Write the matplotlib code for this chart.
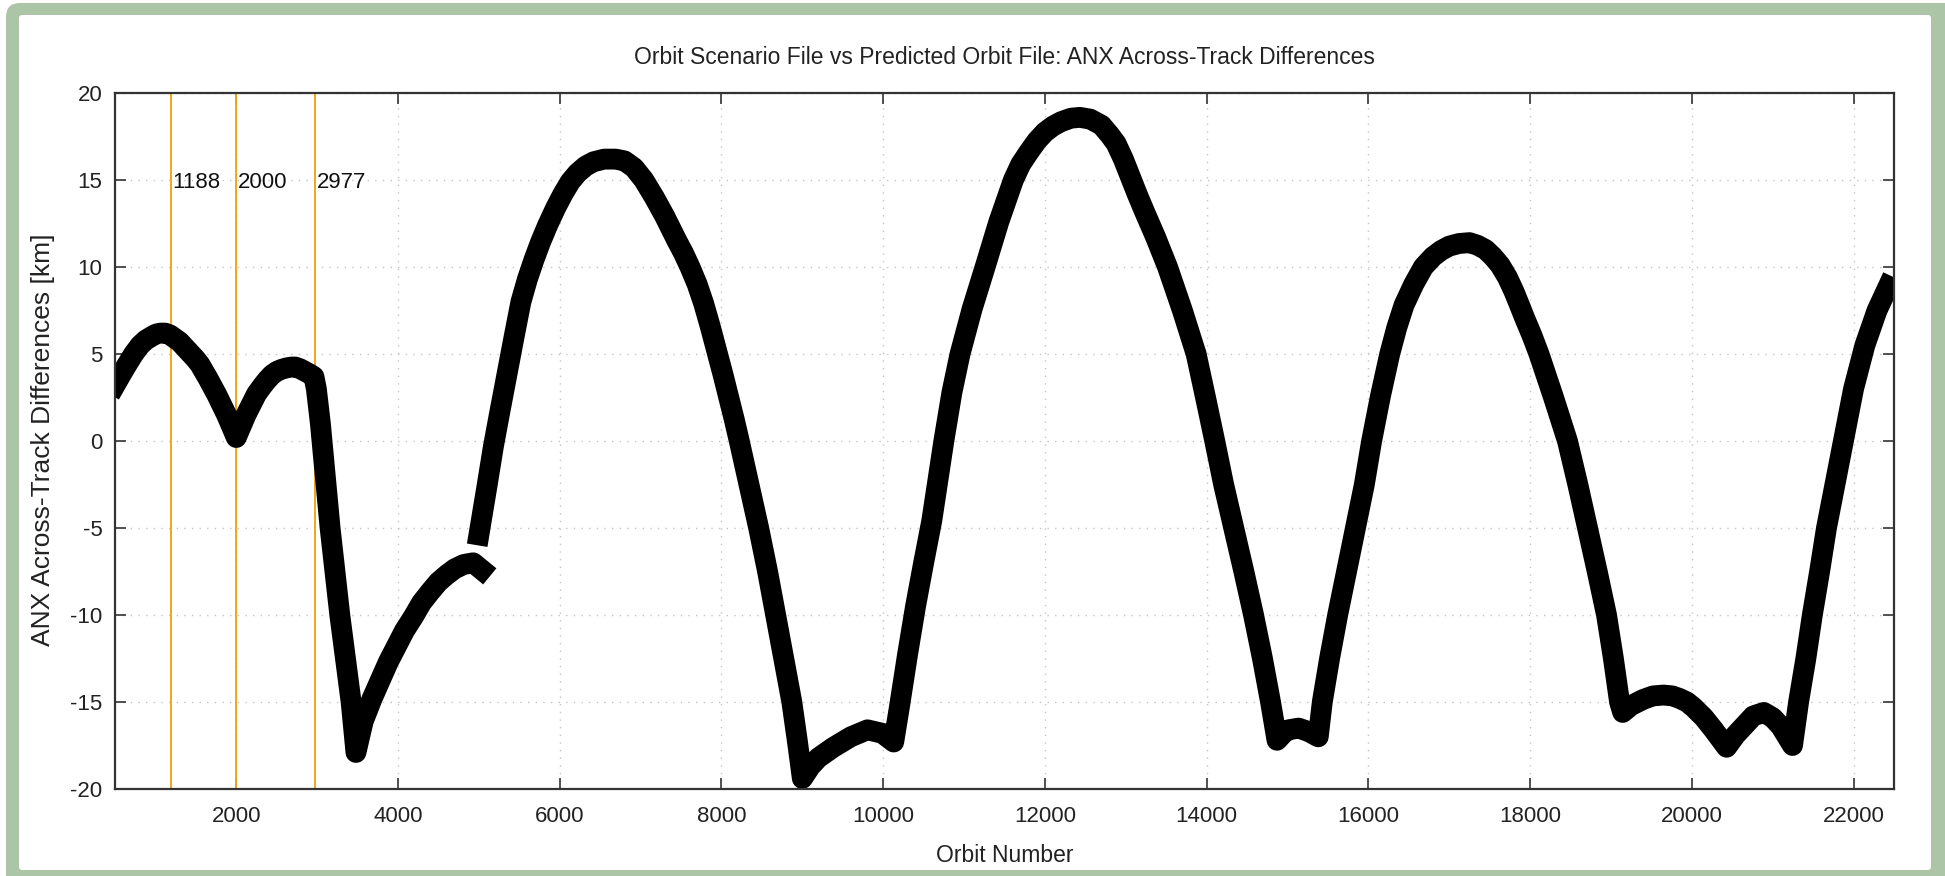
import matplotlib
matplotlib.use("Agg")
import matplotlib.pyplot as plt
from matplotlib.patches import FancyBboxPatch
from matplotlib.transforms import IdentityTransform

plt.rcParams['font.family'] = ['Liberation Sans', 'DejaVu Sans']
plt.rcParams['axes.unicode_minus'] = False

# ---- data ----
seg1_orbit = [500, 580, 650, 730, 810, 880, 950, 1010, 1060, 1120, 1180, 1240, 1300, 1360,
              1420, 1490, 1550, 1650, 1760, 1880, 2000,
              2120, 2250, 2320, 2380, 2440, 2500, 2560, 2620, 2680, 2730, 2790, 2850, 2910,
              2960, 2990, 3040, 3160, 3280,
              3420, 3480, 3570, 3680, 3780, 3880, 3980, 4080, 4190, 4290, 4400, 4500,
              4600, 4700, 4810, 4930, 5035]
seg1_diff = [3.2, 3.85, 4.4, 5.0, 5.5, 5.8, 6.0, 6.15, 6.2, 6.2, 6.1, 5.9, 5.7, 5.4,
             5.1, 4.75, 4.4, 3.6, 2.65, 1.5, 0.2,
             1.5, 2.7, 3.15, 3.5, 3.8, 4.0, 4.12, 4.2, 4.25, 4.25, 4.15, 4.0, 3.85,
             3.7, 3.0, 1.0, -5.0, -10.0,
             -15.0, -17.9, -16.1, -14.8, -13.75, -12.7, -11.8, -10.9, -10.1, -9.3, -8.65, -8.1,
             -7.7, -7.35, -7.1, -7.0, -7.4]

seg2_orbit = [5000, 5100, 5180, 5260, 5350, 5440, 5520, 5600, 5680, 5760, 5850, 5950,
              6040, 6130, 6220, 6320, 6420, 6550, 6690, 6800, 6920, 7040, 7170, 7300,
              7450, 7530, 7610, 7700, 7780, 7860, 7940, 8020, 8090, 8160,
              8220, 8340, 8460, 8570, 8670, 8770, 8870, 8940, 9000, 9100, 9200, 9385,
              9600, 9805, 9990, 10130, 10200, 10300, 10400, 10500, 10600, 10750, 10850,
              10950, 11100, 11260, 11430, 11610, 11700, 11800, 11900, 12000, 12100,
              12200, 12320, 12430, 12560, 12700, 12800, 12880, 12970, 13055, 13140,
              13230, 13370, 13516, 13700, 13870, 14000, 14100, 14210,
              14335, 14460, 14580, 14690, 14790, 14870, 14950, 15010, 15137, 15260,
              15380, 15430, 15520, 15620, 15730, 15840, 15950, 16040, 16150, 16264,
              16350, 16440, 16560, 16680, 16800, 16900, 17000, 17120, 17250, 17350,
              17450, 17540, 17630, 17720, 17800, 17870, 17934, 18020, 18110, 18290,
              18462, 18590, 18710, 18830, 18945, 19030, 19106, 19145, 19250, 19400,
              19520, 19650, 19760, 19850, 19940, 20020, 20150, 20270, 20430, 20540,
              20640, 20760, 20890, 21000, 21100, 21245, 21320, 21410, 21490, 21580,
              21665, 21770, 21875, 22000, 22140, 22290, 22430]
seg2_diff = [-5.4, -2.6, -0.3, 1.7, 3.9, 6.1, 8.0, 9.3, 10.4, 11.4, 12.4, 13.4,
             14.2, 14.9, 15.4, 15.8, 16.05, 16.2, 16.2, 16.1, 15.7, 15.0, 14.0, 12.9,
             11.5, 10.8, 10.0, 9.0, 7.9, 6.6, 5.2, 3.8, 2.5, 1.2,
             0.0, -2.5, -5.0, -7.5, -10.0, -12.5, -15.0, -17.3, -19.4, -18.7, -18.2, -17.6,
             -17.0, -16.6, -16.8, -17.3, -15.3, -12.3, -9.5, -7.0, -4.6, 0.0, 2.8,
             5.0, 7.6, 10.0, 12.6, 15.0, 15.9, 16.6, 17.25, 17.75, 18.1,
             18.35, 18.55, 18.6, 18.5, 18.15, 17.6, 17.1, 16.2, 15.2, 14.2,
             13.2, 11.7, 10.0, 7.5, 5.0, 2.2, 0.0, -2.5,
             -5.0, -7.5, -10.0, -12.5, -15.0, -17.2, -16.8, -16.6, -16.5, -16.7,
             -17.0, -15.0, -12.5, -10.0, -7.5, -5.0, -2.5, 0.0, 2.6, 5.0,
             6.5, 7.8, 9.0, 10.0, 10.6, 10.95, 11.2, 11.35, 11.4, 11.25,
             11.0, 10.6, 10.1, 9.4, 8.6, 7.8, 7.05, 6.1, 5.0, 2.5,
             0.0, -2.5, -5.0, -7.5, -10.0, -12.5, -15.0, -15.6, -15.2, -14.85,
             -14.65, -14.6, -14.65, -14.8, -15.0, -15.3, -15.9, -16.6, -17.6, -16.9,
             -16.4, -15.8, -15.6, -15.9, -16.4, -17.5, -15.0, -12.5, -10.0, -7.5,
             -5.0, -2.5, 0.0, 3.0, 5.5, 7.5, 8.9]

marker_orbits = [1188, 2000, 2977]
marker_labels = ["1188", "2000", "2977"]

x_ticks = list(range(2000, 22001, 2000))
y_ticks = list(range(-20, 21, 5))

W, H = 1945, 876
fig = plt.figure(figsize=(W / 100, H / 100), dpi=100)
fig.patch.set_facecolor('white')

# green frame
green = FancyBboxPatch((6, -30), 1980, 903, boxstyle="round,pad=0,rounding_size=14",
                       transform=IdentityTransform(), facecolor='#adc5a7',
                       edgecolor='none', zorder=0)
inner = FancyBboxPatch((19, 6), 1912, 855, boxstyle="round,pad=0,rounding_size=3",
                       transform=IdentityTransform(), facecolor='white',
                       edgecolor='none', zorder=0.1)
fig.patches.extend([green, inner])

ax = fig.add_axes([115 / W, 1 - 789 / H, (1894 - 115) / W, (789 - 93) / H])
ax.set_zorder(5)
ax.set_facecolor('white')
ax.set_xlim(500, 22500)
ax.set_ylim(-20, 20)
ax.set_xticks(x_ticks)
ax.set_yticks(y_ticks)
ax.grid(True, color='#c4c4c4', linestyle=(0, (1.0, 4.5)), linewidth=1.0)
ax.set_axisbelow(True)

for xo, lab in zip(marker_orbits, marker_labels):
    ax.axvline(xo, color='#f2a516', linewidth=1.4, zorder=1.5)
    ax.text(xo + 20, 14.85, lab, ha='left', va='center', fontsize=16, color='#111111',
            zorder=3)

for xs, ys in ((seg1_orbit, seg1_diff), (seg2_orbit, seg2_diff)):
    ax.plot(xs, ys, color='black', linewidth=15, solid_capstyle='projecting',
            solid_joinstyle='round', zorder=2)

for sp in ax.spines.values():
    sp.set_color('#333333')
    sp.set_linewidth(1.6)
    sp.set_zorder(4)

ax.tick_params(axis='both', which='both', direction='in', length=8, width=1.2,
               color='#333333', top=True, right=True, labelsize=16, labelcolor='#222222')
ax.tick_params(axis='x', pad=12)
ax.tick_params(axis='y', pad=9)

fig.text(0.5164, 1 - 57 / H, "Orbit Scenario File vs Predicted Orbit File: ANX Across-Track Differences",
         ha='center', va='center', fontsize=16.5, color='#222222', zorder=6)
fig.text(1004.5 / W, 1 - 856 / H, "Orbit Number", ha='center', va='center',
         fontsize=16.5, color='#222222', zorder=6)
fig.text(43 / W, 1 - 440 / H, "ANX Across-Track Differences [km]", ha='center',
         va='center', rotation=90, fontsize=19, color='#222222', zorder=6)

fig.savefig("out.png", dpi=100)
